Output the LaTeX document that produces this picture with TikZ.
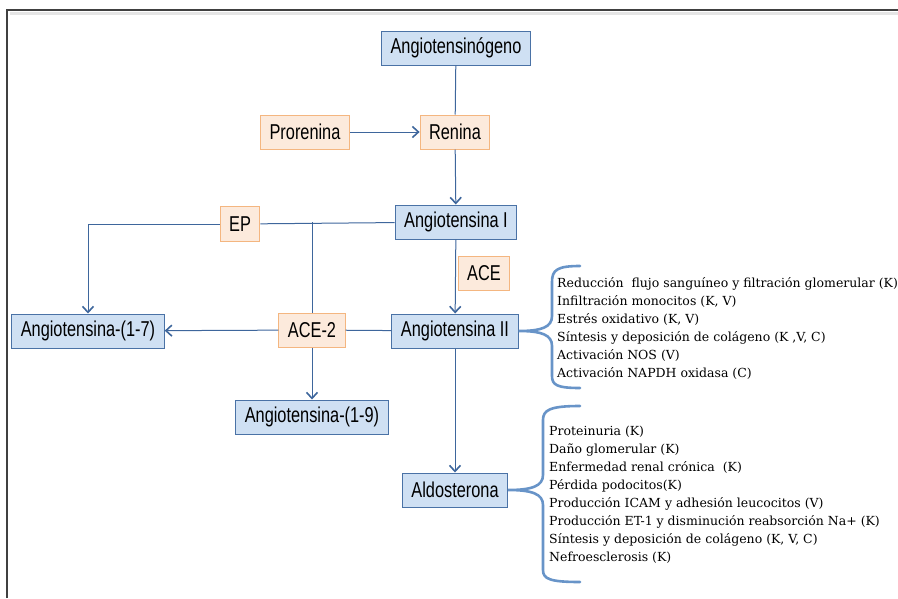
\documentclass[tikz,border=0pt]{standalone}
\usepackage{fontspec}
\setmainfont{Liberation Sans}
\newfontfamily\boxfont{Liberation Sans}[FakeStretch=0.76]
\newfontfamily\listfont{DejaVu Serif}
\usepackage{tikz}
\usetikzlibrary{arrows.meta}

\definecolor{molfill}{RGB}{207,224,243}
\definecolor{moldraw}{RGB}{74,114,166}
\definecolor{enzfill}{RGB}{252,234,220}
\definecolor{enzdraw}{RGB}{244,182,128}
\definecolor{conblue}{RGB}{62,102,156}
\definecolor{braceblue}{RGB}{104,148,200}

\begin{document}
\begin{tikzpicture}[x=1pt,y=-1pt,
    mol/.style={draw=moldraw,fill=molfill,line width=1pt,minimum height=34pt,inner xsep=9pt,font=\boxfont\fontsize{21.5}{24}\selectfont},
    enz/.style={draw=enzdraw,fill=enzfill,line width=1pt,minimum height=34pt,inner xsep=9pt,font=\boxfont\fontsize{21.5}{24}\selectfont},
    con/.style={draw=conblue,line width=1pt},
    arr/.style={con,-{Straight Barb[length=6pt,width=11pt,line width=1.6pt]}},
    brace/.style={draw=braceblue,line width=2.6pt,line cap=round},
    effects/.style={anchor=west,align=left,inner sep=0pt,font=\listfont\fontsize{12.5}{18}\selectfont}]
        \useasboundingbox (0,0) rectangle (898,598);
        \draw[black!10,line width=3pt] (10,13) -- (898,13);
        \draw[black!75,line width=1.4pt] (7,598) -- (7,10) -- (898,10);

        \node[mol] (agn) at (456,48) {Angiotensinógeno};
        \node[enz] (pro) at (305,132) {Prorenina};
        \node[enz] (ren) at (455,132) {Renina};
        \node[mol] (a1) at (456,222) {Angiotensina I};
        \node[enz,minimum height=35pt] (ep) at (240,224) {EP};
        \node[enz] (ace) at (484,273) {ACE};
        \node[mol] (a2) at (455,331) {Angiotensina II};
        \node[enz] (ace2) at (312,330) {ACE-2};
        \node[mol] (a17) at (88,331) {Angiotensina-(1-7)};
        \node[mol] (a19) at (312,417) {Angiotensina-(1-9)};
        \node[mol] (ald) at (455,490) {Aldosterona};

        \draw[con] (agn) -- (ren);
        \draw[arr] (pro) -- (ren);
        \draw[arr] (ren) -- (a1);
        \draw[con] (a1) -- (ep);
        \draw[con] (ace2.north) -- (ace2 |- a1);
        \draw[arr] (ep.west) -| (a17.north);
        \draw[arr] (a1) -- (a2);
        \draw[con] (a2) -- (ace2);
        \draw[arr] (ace2) -- (a17);
        \draw[arr] (ace2) -- (a19);
        \draw[arr] (a2) -- (ald);

        \draw[brace] (580,266) .. controls (557,266) and (552,270) .. (552,282) -- (552,316)
            .. controls (552,327) and (542,331) .. (a2.east)
            .. controls (542,331) and (552,335) .. (552,346) -- (552,376)
            .. controls (552,385) and (557,388) .. (580,388);
        \draw[brace] (580,406) .. controls (550,406) and (543,410) .. (543,420) -- (543,475)
            .. controls (543,486) and (532,490) .. (ald.east)
            .. controls (532,490) and (543,494) .. (543,505) -- (543,570)
            .. controls (543,579) and (550,582) .. (580,582);

        \node[effects] (fx2) at (557,328) {Reducción\ \ flujo sanguíneo y filtración glomerular (K)\\
            Infiltración monocitos (K, V)\\
            Estrés oxidativo (K, V)\\
            Síntesis y deposición de colágeno (K ,V, C)\\
            Activación NOS (V)\\
            Activación NAPDH oxidasa (C)};
        \node[effects] (fxald) at (549,495) {Proteinuria (K)\\
            Daño glomerular (K)\\
            Enfermedad renal crónica\ \ (K)\\
            Pérdida podocitos(K)\\
            Producción ICAM y adhesión leucocitos (V)\\
            Producción ET-1 y disminución reabsorción Na+ (K)\\
            Síntesis y deposición de colágeno (K, V, C)\\
            Nefroesclerosis (K)};
      \end{tikzpicture}
\end{document}
